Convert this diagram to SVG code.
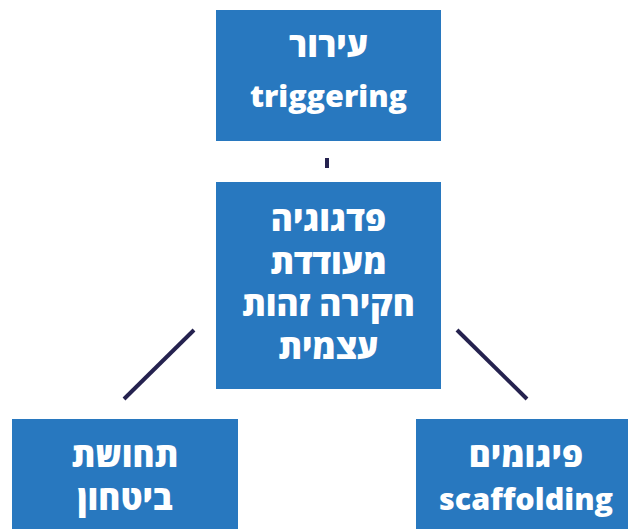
<svg xmlns="http://www.w3.org/2000/svg" width="628" height="529" viewBox="0 0 628 529">
<style>
.box{fill:#2878bf}
.t{fill:#ffffff;font-family:"Open Sans","DejaVu Sans",sans-serif;font-weight:800;font-size:30.5px;text-anchor:middle}
.h{font-size:33.5px}
.c{stroke:#25224f;stroke-width:4;fill:none}
</style>
<rect width="628" height="529" fill="#ffffff"/>
<g id="connectors">
<line class="c" x1="327" y1="158" x2="327" y2="168"/>
<line class="c" x1="194" y1="330" x2="124" y2="399"/>
<line class="c" x1="457" y1="330" x2="527" y2="399"/>
</g>
<g id="node-top">
<rect class="box" x="216" y="10" width="225" height="131"/>
<text class="t h" x="328.5" y="57" direction="rtl">עירור</text>
<text class="t" x="328.5" y="107">triggering</text>
</g>
<g id="node-center">
<rect class="box" x="216" y="182" width="225" height="207"/>
<text class="t h" x="328.5" y="231" direction="rtl">פדגוגיה</text>
<text class="t h" x="328.5" y="274" direction="rtl">מעודדת</text>
<text class="t h" x="328.5" y="316" direction="rtl">חקירה זהות</text>
<text class="t h" x="328.5" y="359" direction="rtl">עצמית</text>
</g>
<g id="node-left">
<rect class="box" x="12" y="419" width="226" height="120"/>
<text class="t h" x="125" y="467" direction="rtl">תחושת</text>
<text class="t h" x="125" y="510" direction="rtl">ביטחון</text>
</g>
<g id="node-right">
<rect class="box" x="416" y="419" width="222" height="120"/>
<text class="t h" x="526" y="467" direction="rtl">פיגומים</text>
<text class="t" x="526" y="510">scaffolding</text>
</g>
</svg>
